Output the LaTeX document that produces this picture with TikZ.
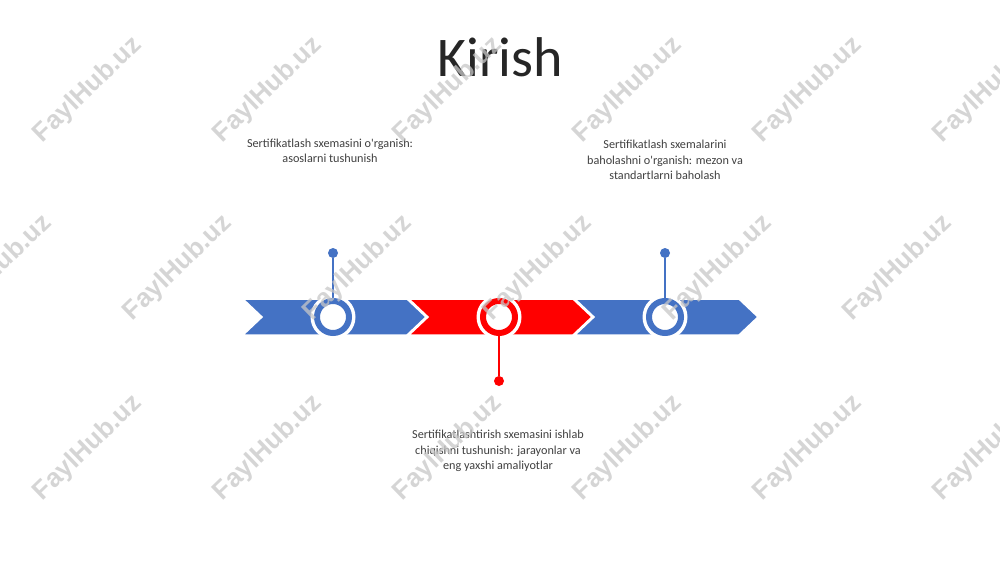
\documentclass[tikz,border=0pt]{standalone}
\usepackage{fontspec}
\newfontfamily\cf{Carlito}
\newfontfamily\wmf{Liberation Sans}[BoldFont={Liberation Sans Bold}]
\definecolor{oblue}{HTML}{4472C4}
\definecolor{ored}{HTML}{FF0000}
\definecolor{txt}{HTML}{404040}
\definecolor{ttl}{HTML}{262626}
\begin{document}
\begin{tikzpicture}[x=1pt,y=-1pt,
  chevshape/.style={draw=white, line width=1.5pt},
  halo/.style={fill=white},
  ring/.style={circle, draw=#1, line width=6pt, fill=white, minimum size=32pt, inner sep=0pt},
  pindot/.style={circle, fill=#1, minimum size=10pt, inner sep=0pt},
  pinline/.style={draw=#1, line width=2pt},
  label/.style={font=\cf\fontsize{12.2}{15.5}\selectfont, text=txt, align=center, inner sep=0pt},
  wm/.style={font=\wmf\bfseries\fontsize{26}{26}\selectfont, text=black!22, opacity=0.75, rotate=44, inner sep=0pt}
]
\useasboundingbox (0,0) rectangle (1000,562);
\fill[white] (0,0) rectangle (1000,562);

% title
\node[font=\cf\fontsize{56}{60}\selectfont, text=ttl, anchor=base, inner sep=0pt] (title) at (500,76) {Kirish};

% chevrons
\newcommand\chevron[2]{\path[chevshape, fill=#2] (#1,299) -- ++(164,0) -- ++(19,18) -- ++(-19,18) -- ++(-164,0) -- ++(19,-18) -- cycle;}
\chevron{243}{oblue}
\chevron{409}{ored}
\chevron{575}{oblue}

% halos
\fill[halo] (333,317) circle (22.5pt);
\fill[halo] (499,317) circle (22.5pt);
\fill[halo] (665,317) circle (22.5pt);

% rings
\node[ring=oblue] (k1) at (333,317) {};
\node[ring=ored] (k2) at (499,317) {};
\node[ring=oblue] (k3) at (665,317) {};

% pins
\node[pindot=oblue] (d1) at (333,253) {};
\node[pindot=ored] (d2) at (499,381) {};
\node[pindot=oblue] (d3) at (665,253) {};
\draw[pinline=oblue] (d1) -- (k1);
\draw[pinline=ored] (d2) -- (k2);
\draw[pinline=oblue] (d3) -- (k3);

% labels
\node[label] (t1) at (330,151) {Sertifikatlash sxemasini o'rganish:\\asoslarni tushunish};
\node[label] (t2) at (665,160) {Sertifikatlash sxemalarini\\baholashni o'rganish: mezon va\\standartlarni baholash};
\node[label] (t3) at (498,451) {Sertifikatlashtirish sxemasini ishlab\\chiqishni tushunish: jarayonlar va\\eng yaxshi amaliyotlar};

% watermarks
\foreach \i [count=\n] in {88,268,448,628,808,988}{
  \node[wm] (wa\n) at (\i,90) {FaylHub.uz};
  \node[wm] (wc\n) at (\i,448) {FaylHub.uz};
}
\foreach \i [count=\n] in {-2,178,358,538,718,898}{
  \node[wm] (wb\n) at (\i,268) {FaylHub.uz};
}
\end{tikzpicture}
\end{document}
